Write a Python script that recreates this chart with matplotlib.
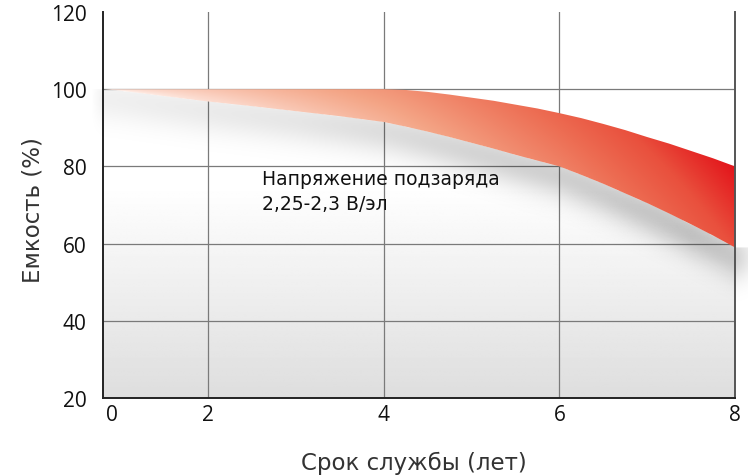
import numpy as np
import matplotlib
matplotlib.use("Agg")
import matplotlib.pyplot as plt
from matplotlib.colors import LinearSegmentedColormap

plt.rcParams['font.family'] = ['Open Sans', 'DejaVu Sans']

# ------------------------------------------------------------ data
years = [0.8, 1.0, 1.5, 2.0, 2.5, 3.0, 3.5, 4.0, 4.25, 4.5, 4.75, 5.0, 5.25, 5.5,
         5.75, 6.0, 6.25, 6.5, 6.75, 7.0, 7.25, 7.5, 7.75, 8.0]
upper = [100, 100, 100, 100, 100, 100, 100, 100, 99.8, 99.3, 98.6, 97.8, 97.0, 96.0,
         95.0, 93.8, 92.5, 91.0, 89.4, 87.6, 85.9, 84.0, 82.1, 80.0]
lower = [100, 99.6, 98.2, 96.8, 95.6, 94.3, 93.0, 91.5, 90.3, 89.0, 87.6, 86.1, 84.6, 83.0,
         81.5, 80.0, 77.8, 75.5, 73.0, 70.5, 67.8, 65.0, 62.1, 59.0]

xticks = [0.9, 2, 4, 6, 8]
xlabels = ['0', '2', '4', '6', '8']
yticks = [20, 40, 60, 80, 100, 120]

note = 'Напряжение подзаряда\n2,25-2,3 В/эл'

x0, x1 = 0.8, 8.0
y0, y1 = 20, 120

fig = plt.figure(figsize=(7.48, 4.77), dpi=100)
ax = fig.add_axes([103/748, 1-399/477, 632/748, 386/477])
ax.set_xlim(x0, x1)
ax.set_ylim(y0, y1)

# ------------------------------------------------- background gradient
gy = np.linspace(y0, y1, 200)
g = np.where(gy < 75, 1 - 0.13*(75-gy)/55, 1.0)
bg = np.repeat(g[:, None], 2, axis=1)
ax.imshow(bg, cmap='gray', vmin=0, vmax=1, extent=[x0, x1, y0, y1],
          origin='lower', aspect='auto', zorder=0, interpolation='bilinear')

# ---------------------------------------------------------- grid lines
for yt in [40, 60, 80, 100]:
    ax.axhline(yt, color='#7a7a7a', lw=0.9, zorder=1)
for xt in [2, 4, 6]:
    ax.axvline(xt, color='#7a7a7a', lw=0.9, zorder=1)

# ------------------------------------------------------------- shadow
sx = np.linspace(x0 - 0.15, x1 + 0.3, 400)
sy = np.linspace(40, 102, 300)
SX, SY = np.meshgrid(sx, sy)
low = np.interp(SX, years, lower)
d = low - SY
amp = np.interp(SX, [x0-0.15, x0, 3, 5, 7.5, 8.0, 8.3], [0.0, 0.06, 0.1, 0.17, 0.22, 0.18, 0.0])
alpha = amp*np.exp(-((d - 2.5)/6.0)**2)
alpha[d < 0] = 0
sh = np.zeros(SX.shape + (4,))
sh[..., 3] = alpha
ax.imshow(sh, extent=[sx[0], sx[-1], sy[0], sy[-1]], origin='lower',
          aspect='auto', zorder=2, interpolation='bilinear', clip_on=False)

# --------------------------------------------------------------- band
poly = ax.fill_between(years, lower, upper, color='none', lw=0, zorder=3)
cmap = LinearSegmentedColormap.from_list(
    'band', [(0, '#fff5f1'), (0.2, '#fbd3c4'), (0.45, '#f4a586'), (0.72, '#ed6d53'),
             (0.86, '#e9503d'), (1.0, '#e3151b')])
bx = np.linspace(x0, x1, 400)
by = np.linspace(55, 101, 300)
BX, BY = np.meshgrid(bx, by)
up = np.interp(BX, years, upper)
lo = np.interp(BX, years, lower)
v = np.clip((BY - lo)/np.maximum(up - lo, 1e-6), 0, 1)
xn = (BX - x0)/(x1 - x0)
t = np.clip(xn*0.86 + 0.14*v, 0, 1)
im = ax.imshow(t, cmap=cmap, vmin=0, vmax=1, extent=[x0, x1, 55, 101],
               origin='lower', aspect='auto', zorder=3, interpolation='bilinear')
im.set_clip_path(poly.get_paths()[0], transform=ax.transData)

# -------------------------------------------------------------- text
ax.text(2.61, 73.6, note, fontsize=13.5, va='center', ha='left', family='DejaVu Sans',
        color='#111111', linespacing=1.4, zorder=5)

ax.set_xticks(xticks)
ax.set_xticklabels(xlabels)
ax.set_yticks(yticks)
ax.tick_params(length=0, labelsize=15, colors='#111111')
ax.tick_params(axis='y', pad=12)
ax.tick_params(axis='x', pad=4)
ax.grid(False)

for s in ['left', 'bottom', 'right']:
    ax.spines[s].set_color('#222222')
    ax.spines[s].set_linewidth(1.4)
    ax.spines[s].set_zorder(6)
ax.spines['right'].set_color('#555555')
ax.spines['top'].set_visible(False)

fig.text(414/748, 1-463/477, 'Срок службы (лет)', fontsize=16.5, family='DejaVu Sans',
         ha='center', va='center', color='#333333')
fig.text(33/748, 1-210/477, 'Емкость (%)', fontsize=16.5, family='DejaVu Sans',
         ha='center', va='center', rotation=90, color='#333333')

fig.savefig('out.png', dpi=100)
